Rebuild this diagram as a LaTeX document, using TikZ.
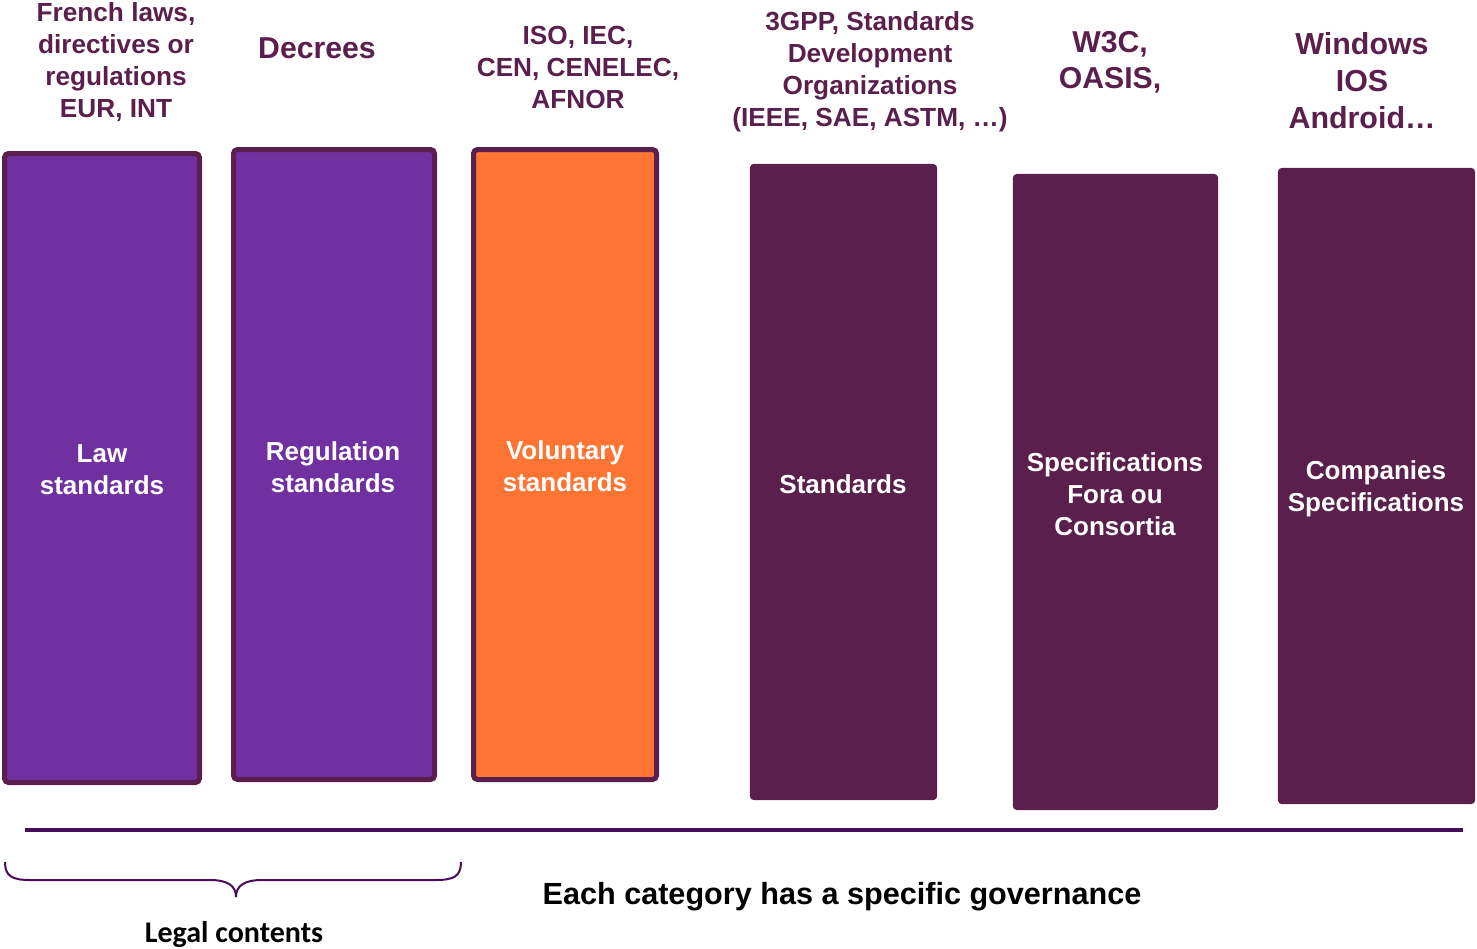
\documentclass[tikz,border=0pt]{standalone}
\usepackage{fontspec}
\setmainfont{Liberation Sans}
\newfontfamily\calib{Carlito}
\definecolor{boxdark}{RGB}{91,31,78}
\definecolor{purplefill}{RGB}{112,48,160}
\definecolor{orangefill}{RGB}{254,116,51}
\definecolor{linepurple}{RGB}{72,12,92}
\tikzset{
  catbox/.style={rectangle, rounded corners=2, inner sep=0pt, line width=2.5pt, draw=boxdark, text=white, align=center, font=\bfseries\fontsize{13}{16}\selectfont},
  headtxt/.style={align=center, text=boxdark, inner sep=0pt, font=\bfseries\fontsize{13.1}{16}\selectfont},
  bigtxt/.style={align=center, text=boxdark, inner sep=0pt, font=\bfseries\fontsize{15.1}{18}\selectfont},
}
\begin{document}
\begin{tikzpicture}[x=0.5pt,y=-0.5pt]
\useasboundingbox (0,0) rectangle (1477,948);
% boxes
\node[catbox, fill=purplefill, minimum width=97.5pt, minimum height=314.5pt] (law) at (102,468) {};
\node[catbox, fill=purplefill, minimum width=100.5pt, minimum height=315pt] (reg) at (334,464.5) {};
\node[catbox, fill=orangefill, minimum width=91.5pt, minimum height=315pt] (vol) at (565,464.5) {};
\node[catbox, fill=boxdark, line width=0.4pt, minimum width=93.3pt, minimum height=317.8pt] (std) at (843.5,482) {};
\node[catbox, fill=boxdark, line width=0.4pt, minimum width=102.3pt, minimum height=317.8pt] (spec) at (1115.5,492) {};
\node[catbox, fill=boxdark, line width=0.4pt, minimum width=98.3pt, minimum height=317.8pt] (comp) at (1376.5,486) {};
% box labels
\node[catbox, draw=none, rounded corners=0] (lawt) at (102,470) {Law\\standards};
\node[catbox, draw=none, rounded corners=0] (regt) at (333,467) {Regulation\\standards};
\node[catbox, draw=none, rounded corners=0] (volt) at (565,466.5) {Voluntary\\standards};
\node[catbox, draw=none, rounded corners=0] (stdt) at (843,484) {Standards};
\node[catbox, draw=none, rounded corners=0] (spect) at (1115,494) {Specifications\\Fora ou\\Consortia};
\node[catbox, draw=none, rounded corners=0] (compt) at (1376,489) {Companies\\Specifications};
% headers
\node[headtxt] (hlaw) at (116,62.5) {French laws,\\directives or\\regulations\\EUR, INT};
\node[bigtxt] (hreg) at (317,48.5) {Decrees};
\node[headtxt] (hvol) at (578,67) {ISO, IEC,\\CEN, CENELEC,\\AFNOR};
\node[headtxt] (hstd) at (870,71.5) {3GPP, Standards\\Development\\Organizations\\(IEEE, SAE, ASTM, \ldots)};
\node[bigtxt] (hspec) at (1110,62.5) {W3C,\\OASIS,};
\node[bigtxt, font=\bfseries\fontsize{15.2}{18.5}\selectfont] (hcomp) at (1362,80.5) {Windows\\IOS\\Android\ldots};
% base line
\coordinate (lineL) at (25,830);
\coordinate (lineR) at (1463,830);
\draw[linepurple, line width=2pt] (lineL) -- (lineR);
% brace
\coordinate (brL) at (5,862);
\coordinate (brR) at (461,862);
\coordinate (brTip) at (236,897);
\draw[linepurple, line width=1pt] (brL) .. controls (5,876) and (12,880) .. (30,880) -- (210,880) .. controls (228,880) and (236,886) .. (brTip) .. controls (236,886) and (244,880) .. (262,880) -- (436,880) .. controls (454,880) and (461,876) .. (brR);
\node[inner sep=0pt, font=\calib\bfseries\fontsize{15}{18}\selectfont] (legal) at (234,934.5) {Legal contents};
\node[inner sep=0pt, font=\bfseries\fontsize{15.3}{18}\selectfont] (gov) at (842,896.5) {Each category has a specific governance};
\end{tikzpicture}
\end{document}
